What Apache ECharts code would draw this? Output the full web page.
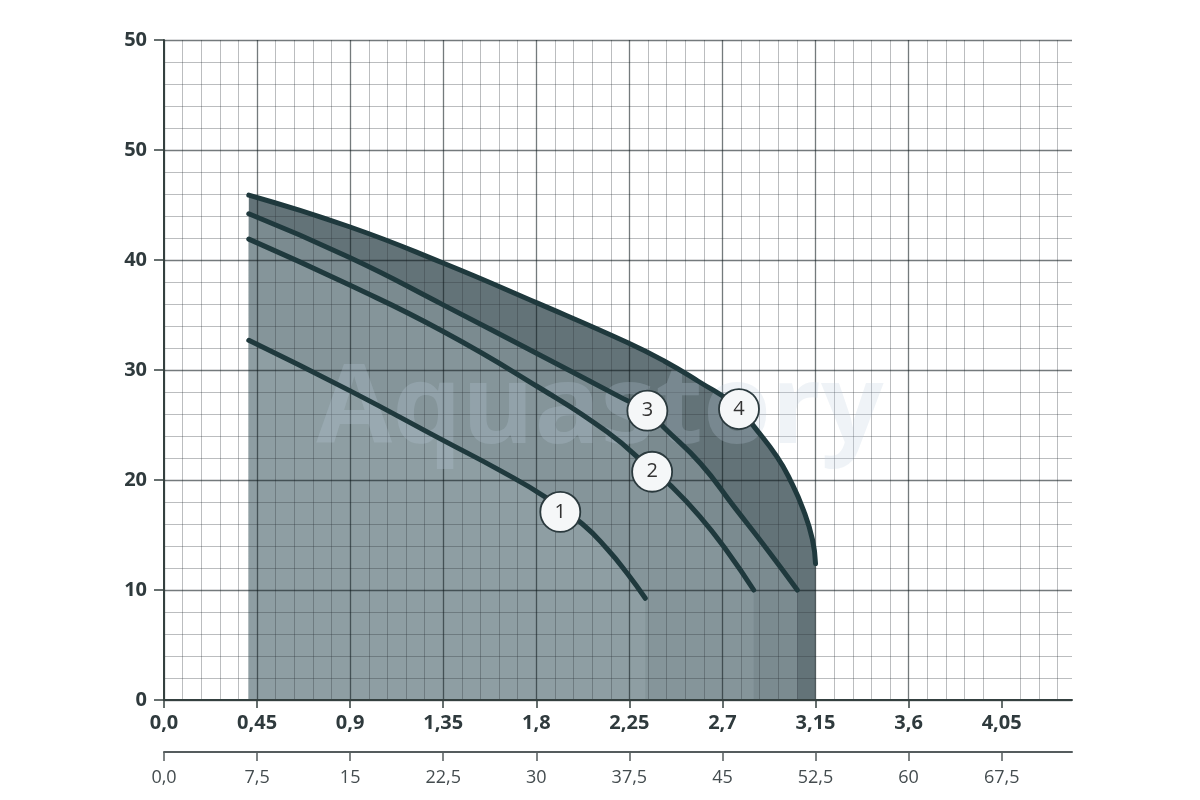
<!DOCTYPE html>
<html>
<head>
<meta charset="utf-8">
<script src="https://cdn.jsdelivr.net/npm/echarts@6/dist/echarts.min.js"></script>
<style>
html,body{margin:0;padding:0;background:#fff;}
#chart{width:1200px;height:800px;}
</style>
</head>
<body>
<div id="chart"></div>
<script>
// Flow (m3/h) tick values and labels
const qTicks = [0, 0.45, 0.9, 1.35, 1.8, 2.25, 2.7, 3.15, 3.6, 4.05];
const qLabels = ["0,0", "0,45", "0,9", "1,35", "1,8", "2,25", "2,7", "3,15", "3,6", "4,05"];
// Flow (l/min) labels at the same positions
const lpmLabels = ["0,0", "7,5", "15", "22,5", "30", "37,5", "45", "52,5", "60", "67,5"];
// Head (m) tick labels
const hLabels = ["0", "10", "20", "30", "40", "50", "50"];

// Curve 1
const q1 = [0.41, 0.9, 1.35, 1.626, 1.844, 2.023, 2.144, 2.24, 2.327];
const h1 = [32.7, 28.1, 23.6, 20.85, 18.45, 16.0, 13.7, 11.5, 9.25];
// Curve 2
const q2 = [0.41, 0.9, 1.35, 1.805, 2.14, 2.366, 2.455, 2.59, 2.72, 2.851];
const h2 = [41.9, 37.7, 33.5, 28.5, 24.4, 20.8, 19.4, 16.7, 13.6, 10.0];
// Curve 3
const q3 = [0.41, 0.9, 1.352, 1.803, 2.22, 2.337, 2.416, 2.594, 2.755, 2.92, 3.062];
const h3 = [44.2, 40.2, 35.9, 31.5, 27.4, 26.3, 24.8, 21.5, 17.6, 13.6, 10.0];
// Curve 4
const q4 = [0.41, 0.9, 1.352, 1.803, 2.24, 2.42, 2.581, 2.778, 2.851, 2.964, 3.03, 3.093, 3.135, 3.15];
const h4 = [45.9, 43.0, 39.7, 36.1, 32.5, 30.8, 29.0, 26.6, 24.9, 22.1, 19.9, 17.2, 14.6, 12.4];

// Curve number badges
const badgeNames = ["1", "2", "3", "4"];
const badgeQ = [1.916, 2.36, 2.337, 2.78];
const badgeH = [17.1, 20.75, 26.3, 26.45];

const zip = (a, b) => a.map((v, i) => [v, b[i]]);
const curves = [zip(q1, h1), zip(q2, h2), zip(q3, h3), zip(q4, h4)];
const areaColors = ['#8e9ea3', '#85959a', '#7b8b90', '#637378'];

const FONT = '"Open Sans", "Noto Sans", sans-serif';
const MAJOR = 'rgba(15,25,30,0.58)';
const MINOR = 'rgba(45,50,55,0.32)';
const AXIS = '#34403f';
const SMOOTH = 0.5;

const chart = echarts.init(document.getElementById('chart'), null, {renderer: 'canvas'});

const series = [];
// areas, darkest (curve 4) first
for (let i = 3; i >= 0; i--) {
  series.push({
    type: 'line', data: curves[i], smooth: SMOOTH, showSymbol: false, silent: true,
    lineStyle: {width: 0}, areaStyle: {color: areaColors[i], opacity: 1},
    z: 1, animation: false
  });
}
for (let i = 0; i < 4; i++) {
  series.push({
    type: 'line', data: curves[i], smooth: SMOOTH, showSymbol: false, silent: true,
    lineStyle: {width: 5, color: '#1f393d', cap: 'round'},
    z: 5, animation: false
  });
}
series.push({
  type: 'scatter', z: 6, animation: false, silent: true,
  symbol: 'circle', symbolSize: 40,
  data: badgeNames.map((n, i) => ({name: n, value: [badgeQ[i], badgeH[i]]})),
  itemStyle: {color: '#f5f7f8', borderColor: '#2b3a3e', borderWidth: 1.8, opacity: 1},
  label: {show: true, position: 'inside', formatter: p => p.name, fontSize: 20,
          color: '#333', fontFamily: FONT}
});

const idxOf = (v) => qTicks.findIndex(t => Math.abs(t - v) < 1e-6);

const option = {
  backgroundColor: '#ffffff',
  animation: false,
  grid: {left: 164, top: 40, right: 128, bottom: 100, containLabel: false},
  xAxis: [
    {
      type: 'value', min: 0, max: 4.39, interval: 0.45, z: 3,
      axisLine: {show: true, onZero: false, lineStyle: {color: AXIS, width: 2}},
      axisTick: {show: true, customValues: qTicks, length: 8, lineStyle: {color: AXIS, width: 1.5}},
      axisLabel: {customValues: qTicks, formatter: v => qLabels[idxOf(v)] ?? '',
                  margin: 13, fontSize: 20, fontWeight: 'bold', color: '#2f3a3d', fontFamily: FONT},
      splitLine: {show: true, showMaxLine: false, lineStyle: {color: MAJOR, width: 1.3}}
    },
    {
      type: 'value', min: 0, max: 4.39, interval: 0.45, z: 3, position: 'bottom', offset: 52,
      axisLine: {show: true, onZero: false, lineStyle: {color: '#555c5e', width: 2}},
      axisTick: {show: true, customValues: qTicks, length: 9, lineStyle: {color: '#555c5e', width: 1.5}},
      axisLabel: {customValues: qTicks, formatter: v => lpmLabels[idxOf(v)] ?? '',
                  margin: 17, fontSize: 18, color: '#444c4f', fontFamily: FONT},
      splitLine: {show: false}
    },
    {
      // minor vertical grid only
      type: 'value', min: 0, max: 4.39, interval: 0.09, z: 2, position: 'bottom',
      axisLine: {show: false}, axisTick: {show: false}, axisLabel: {show: false},
      splitLine: {show: true, showMaxLine: false,
                  lineStyle: {color: ['rgba(0,0,0,0)', MINOR, MINOR, MINOR, MINOR], width: 1}}
    }
  ],
  yAxis: {
    type: 'value', min: 0, max: 60, interval: 10, z: 3,
    axisLine: {show: true, onZero: false, lineStyle: {color: AXIS, width: 2}},
    axisTick: {show: true, length: 10, lineStyle: {color: AXIS, width: 1.5}},
    axisLabel: {formatter: v => hLabels[Math.round(v / 10)], margin: 17, fontSize: 20,
                fontWeight: 'bold', color: '#2f3a3d', fontFamily: FONT},
    splitLine: {show: true, lineStyle: {color: MAJOR, width: 1.3}},
    minorTick: {show: false, splitNumber: 5},
    minorSplitLine: {show: true, lineStyle: {color: MINOR, width: 1}}
  },
  graphic: [{
    type: 'text', z: 4, silent: true,
    x: 600, y: 412,
    style: {text: 'Aquastory', font: 'bold 110px "Open Sans", sans-serif',
            fill: 'rgba(190,205,222,0.24)', align: 'center', verticalAlign: 'middle'}
  }],
  series: series
};
chart.setOption(option);
</script>
</body>
</html>
